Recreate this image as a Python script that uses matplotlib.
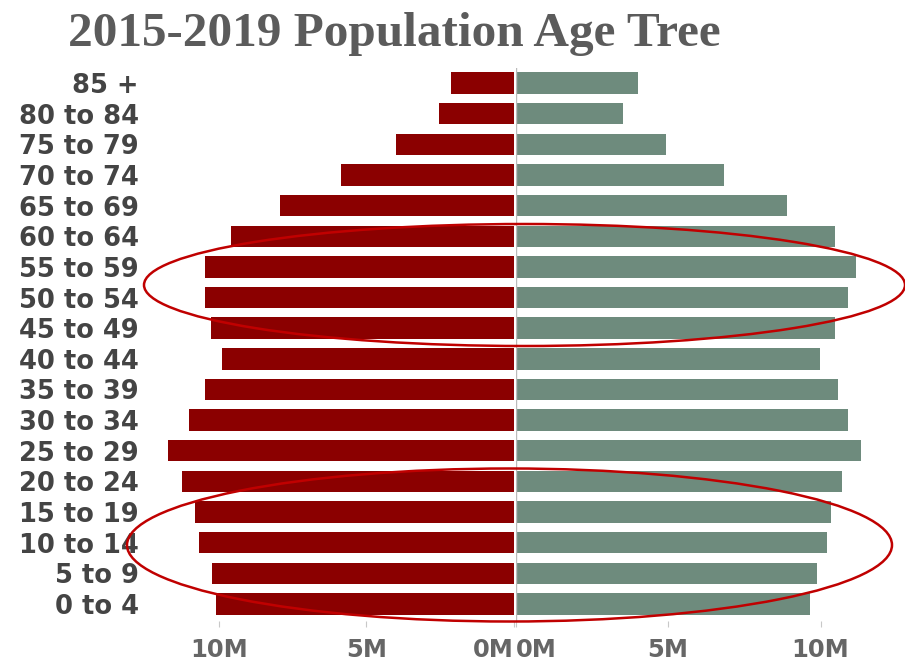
import matplotlib
matplotlib.use("Agg")
from matplotlib import pyplot as plt
from matplotlib.patches import Ellipse

# age groups, bottom to top
age_groups = ["0 to 4", "5 to 9", "10 to 14", "15 to 19", "20 to 24", "25 to 29",
              "30 to 34", "35 to 39", "40 to 44", "45 to 49", "50 to 54", "55 to 59",
              "60 to 64", "65 to 69", "70 to 74", "75 to 79", "80 to 84", "85 +"]

# population in millions (left side red, right side green)
left_values = [10.10, 10.24, 10.68, 10.81, 11.25, 11.73, 11.00, 10.47, 9.90,
               10.27, 10.47, 10.47, 9.59, 7.93, 5.86, 4.00, 2.54, 2.14]
right_values = [9.67, 9.87, 10.20, 10.33, 10.72, 11.34, 10.89, 10.56, 9.97,
                10.46, 10.89, 11.15, 10.46, 8.89, 6.85, 4.95, 3.51, 4.03]

left_ticks = [10, 5, 0]
right_ticks = [0, 5, 10]

W, H = 905, 664
fig = plt.figure(figsize=(W / 100, H / 100), dpi=100)

bottom = 1 - 621 / H
height = (621 - 67.7) / H
ax_l = fig.add_axes([150 / W, bottom, (514 - 150) / W, height])
ax_r = fig.add_axes([515.5 / W, bottom, (880 - 515.5) / W, height])

y = list(range(len(age_groups)))
ax_l.barh(y, left_values, height=0.7, color="#8b0000")
ax_r.barh(y, right_values, height=0.7, color="#6e8b7d")

ax_l.set_xlim(12.33, 0)
ax_r.set_xlim(0, 11.95)
for ax in (ax_l, ax_r):
    ax.set_ylim(-0.555, 17.5)
    for s in ax.spines.values():
        s.set_visible(False)
    ax.tick_params(axis="x", length=4, color="#c8c8c8", pad=8,
                   labelsize=17.5, labelcolor="#666666")

ax_r.axvline(0, color="#bbbbbb", lw=1, zorder=3)

# y labels
ax_l.set_yticks(y)
ax_l.set_yticklabels(age_groups, fontsize=18.5, fontweight="bold", color="#444444")
ax_l.tick_params(axis="y", length=0, pad=8)
ax_r.set_yticks([])

ax_l.set_xticks(left_ticks)
ax_l.set_xticklabels([f"{t}M" for t in left_ticks], fontweight="bold")
ax_r.set_xticks(right_ticks)
ax_r.set_xticklabels([f"{t}M" for t in right_ticks], fontweight="bold")
ax_l.get_xticklabels()[-1].set_ha("right")
ax_r.get_xticklabels()[0].set_ha("left")

fig.text(68 / W, 1 - 46 / H, "2015-2019 Population Age Tree", family="Liberation Serif",
         fontweight="bold", fontsize=35.5, color="#5b5b5b", ha="left", va="baseline")

# red ellipses highlighting age groups
for cx, cy, ew, eh in [(524.5, 285, 761, 122), (509.5, 545, 765, 153)]:
    e = Ellipse((cx / W, 1 - cy / H), ew / W, eh / H, transform=fig.transFigure,
                fill=False, edgecolor="#c00000", lw=1.8, clip_on=False)
    fig.add_artist(e)

fig.savefig("out.png", dpi=100)
